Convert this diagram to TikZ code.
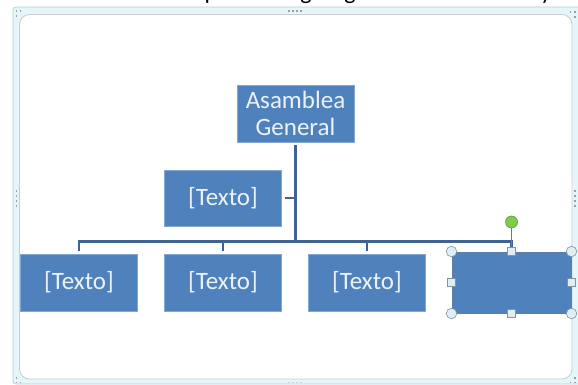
\documentclass[tikz,border=0pt]{standalone}
\usepackage{fontspec}
\setmainfont{Carlito}
\definecolor{boxblue}{RGB}{79,129,189}
\definecolor{linkblue}{RGB}{62,98,148}
\definecolor{boxtext}{RGB}{236,242,249}
\definecolor{framefill}{RGB}{229,246,250}
\definecolor{frameline}{RGB}{188,204,210}
\definecolor{innerline}{RGB}{200,205,210}
\definecolor{handlefill}{RGB}{222,238,244}
\definecolor{handleline}{RGB}{128,148,160}
\definecolor{rotgreen}{RGB}{126,205,72}
\definecolor{rotline}{RGB}{92,150,62}
\definecolor{selline}{RGB}{96,124,158}
\definecolor{gripdot}{RGB}{150,160,165}
\definecolor{gripsoft}{RGB}{200,206,210}

\tikzset{
  orgbox/.style={fill=boxblue, draw=boxblue!70!white, line width=0.6pt,
    text=boxtext, font=\fontsize{25}{27.5}\selectfont, align=center,
    inner sep=0pt, minimum width=117pt, minimum height=57pt},
  link/.style={draw=linkblue, line width=2.3pt},
  cornerhandle/.style={circle, fill=handlefill, draw=handleline,
    line width=0.6pt, minimum size=10.5pt, inner sep=0pt},
  edgehandle/.style={rectangle, fill=handlefill, draw=handleline,
    line width=0.6pt, minimum size=8pt, inner sep=0pt},
  rothandle/.style={circle, fill=rotgreen, draw=rotline,
    line width=0.6pt, minimum size=12pt, inner sep=0pt},
  grip/.style={fill=gripdot},
  softgrip/.style={fill=gripsoft},
  cuttext/.style={anchor=base, inner sep=0pt, text=black,
    font=\fontsize{24}{27}\selectfont}
}

\begin{document}
\begin{tikzpicture}[x=1pt, y=-1pt]
\useasboundingbox (0,0) rectangle (578,385);

% letters of the line above, cut off by the top edge
\begin{scope}
  \clip (0,0) rectangle (578,7);
  \node[cuttext] (lp) at (211,-0.5) {p};
  \node[cuttext] (lg1) at (306,-0.5) {g};
  \node[cuttext] (lg2) at (350,-0.5) {g};
  \node[cuttext] (ly) at (546,-0.5) {y};
\end{scope}

% canvas frame
\draw[fill=framefill, draw=frameline, line width=0.8pt, rounded corners=3pt]
  (13,7) rectangle (592,384);
\draw[fill=white, draw=innerline, line width=0.8pt, rounded corners=10pt]
  (19.5,14.5) rectangle (572,379);

% frame grips
\foreach \gx in {288,292,296,300} {
  \fill[grip] (\gx,10.5) rectangle +(1.6,1.6);
  \fill[softgrip] (\gx,381.5) rectangle +(1.6,1.6);
}
\foreach \gy in {190,195,200,205} {
  \fill[grip] (15.5,\gy) rectangle +(1.6,1.6);
  \fill[grip] (574,\gy) rectangle +(1.6,1.6);
}
\foreach \gx/\gy in {15.5/10.5, 19.5/10.5, 15.5/15.5,
                     569.5/11, 574/11, 574/16,
                     15.5/377, 15.5/381.5, 19.5/381.5,
                     574/377, 574/381.5, 569.5/381.5} {
  \fill[grip] (\gx,\gy) rectangle +(1.6,1.6);
}

% organisation chart boxes
\node[orgbox] (ag) at (295.5,113.5) {Asamblea\\General};
\node[orgbox, minimum height=56pt] (t0) at (223,198) {[Texto]};
\node[orgbox] (b1) at (79,282.5) {[Texto]};
\node[orgbox] (b2) at (223,282.5) {[Texto]};
\node[orgbox] (b3) at (367,282.5) {[Texto]};
\node[orgbox, draw=selline, line width=1pt, minimum width=119pt,
      minimum height=61pt] (b4) at (511.5,282.5) {};

% connectors
\coordinate (bus) at (295.5,241.5);
\draw[link, shorten <=3pt] (ag) -- (ag |- bus);
\draw[link] ([xshift=3pt]t0.east) -- (t0 -| ag);
\draw[link] ([yshift=3pt]b1.north) -- (b1 |- bus) -- (b4 |- bus) -- (b4.north);
\draw[link] (b2 |- bus) -- ([yshift=3pt]b2.north);
\draw[link] (b3 |- bus) -- ([yshift=3pt]b3.north);

% selection handles of the last box
\node[rothandle] (rot) at (511.5,222) {};
\draw[selline, line width=1pt] (rot) -- (b4.north);
\node[cornerhandle] (hnw) at (b4.north west) {};
\node[cornerhandle] (hne) at (b4.north east) {};
\node[cornerhandle] (hsw) at (b4.south west) {};
\node[cornerhandle] (hse) at (b4.south east) {};
\node[edgehandle] (hn) at (b4.north) {};
\node[edgehandle] (hs) at (b4.south) {};
\node[edgehandle] (hw) at (b4.west) {};
\node[edgehandle] (he) at (b4.east) {};
\end{tikzpicture}
\end{document}
